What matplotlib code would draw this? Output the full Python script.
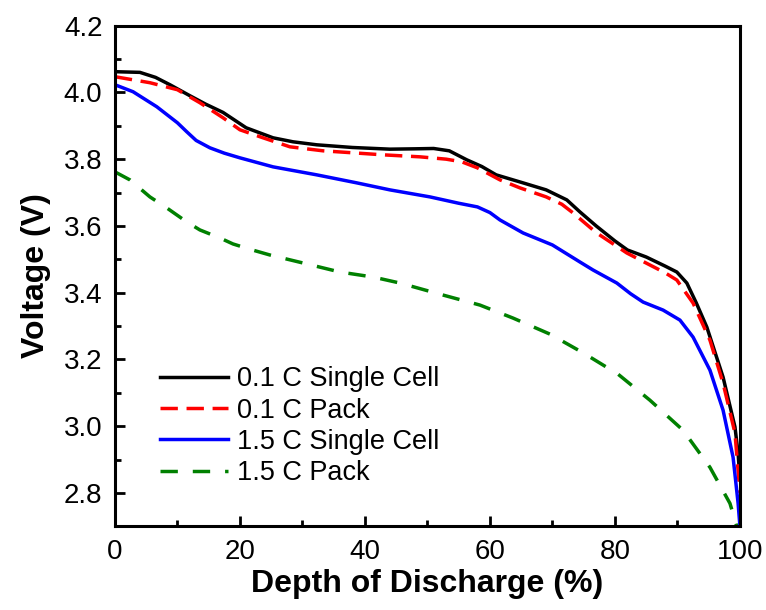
import matplotlib
matplotlib.use("Agg")
import matplotlib.pyplot as plt

plt.rcParams['font.family'] = ['Liberation Sans', 'DejaVu Sans']

# 0.1 C single cell
dod_01_cell = [0, 4, 6.5, 8.8, 12, 14.5, 17.3, 21, 25.3, 28.5, 32.3, 38, 44, 48, 51, 53.5, 56.3,
               58.7, 61, 65.3, 69, 72.3, 74.4, 77, 80, 82, 85, 88, 89.9, 91.5, 93, 94.7, 97.3,
               99.2, 99.7, 100]
v_01_cell = [4.062, 4.06, 4.045, 4.023, 3.99, 3.965, 3.94, 3.894, 3.864, 3.852, 3.843, 3.835,
             3.83, 3.831, 3.832, 3.825, 3.798, 3.778, 3.753, 3.729, 3.708, 3.678, 3.642, 3.6,
             3.555, 3.528, 3.507, 3.48, 3.462, 3.429, 3.37, 3.297, 3.147, 2.998, 2.92, 2.84]

# 0.1 C pack
dod_01_pack = [0, 5.6, 10, 13.6, 17.3, 20, 23.7, 28, 33.3, 42.9, 48.8, 53, 55.5, 58, 61.6, 64.8,
               69, 71.5, 73.3, 77, 81.9, 85.6, 88, 89.9, 92.5, 95.2, 97.3, 99.2, 100]
v_01_pack = [4.047, 4.029, 4.008, 3.969, 3.924, 3.888, 3.864, 3.837, 3.825, 3.813, 3.807, 3.80,
             3.792, 3.774, 3.738, 3.714, 3.687, 3.665, 3.639, 3.58, 3.519, 3.483, 3.46, 3.438,
             3.369, 3.258, 3.129, 2.98, 2.80]

# 1.5 C single cell
dod_15_cell = [0, 2.9, 6.7, 10, 11.5, 13, 15.2, 17.5, 20, 25.3, 32.3, 38.7, 44, 50.4, 55, 58,
               60, 61.6, 65.3, 70, 74.4, 76.5, 80.3, 82.5, 84.5, 87.7, 90.4, 92.5, 95.2, 97.3,
               98.9, 99.7, 100]
v_15_cell = [4.023, 4.002, 3.957, 3.909, 3.882, 3.856, 3.834, 3.818, 3.804, 3.777, 3.753, 3.729,
             3.708, 3.687, 3.668, 3.657, 3.64, 3.618, 3.579, 3.543, 3.492, 3.468, 3.429, 3.397,
             3.372, 3.348, 3.318, 3.267, 3.168, 3.048, 2.907, 2.77, 2.70]

# 1.5 C pack
dod_15_pack = [0, 2.4, 5.6, 8.3, 11.5, 13.6, 16.8, 18.9, 22, 24.8, 30.1, 36, 41.3, 45.6, 52.5,
               58.4, 63.7, 69.6, 74.9, 80.5, 85.6, 90.9, 95.2, 98.4, 99.5]
v_15_pack = [3.762, 3.738, 3.687, 3.654, 3.612, 3.588, 3.564, 3.546, 3.528, 3.513, 3.489, 3.462,
             3.447, 3.429, 3.393, 3.363, 3.324, 3.276, 3.22, 3.156, 3.078, 2.988, 2.877, 2.769,
             2.70]

labels = ['0.1 C Single Cell', '0.1 C Pack', '1.5 C Single Cell', '1.5 C Pack']

fig = plt.figure(figsize=(7.66, 6.1), dpi=100)
ax = fig.add_axes([0.150, 0.137, 0.816, 0.821])

lw = 2.5
ax.plot(dod_01_cell, v_01_cell, color='black', lw=lw, label=labels[0])
ax.plot(dod_01_pack, v_01_pack, color='#ff0000', lw=lw, dashes=(5, 2.5), label=labels[1])
ax.plot(dod_15_cell, v_15_cell, color='#0000ff', lw=lw, label=labels[2])
ax.plot(dod_15_pack, v_15_pack, color='#008000', lw=lw, dashes=(5, 4.3), label=labels[3])

ax.set_xlim(0, 100)
ax.set_ylim(2.7, 4.2)
ax.set_xticks([0, 20, 40, 60, 80, 100])
ax.set_xticks([10, 30, 50, 70, 90], minor=True)
ax.set_yticks([2.8, 3.0, 3.2, 3.4, 3.6, 3.8, 4.0, 4.2])
ax.set_yticks([2.7, 2.9, 3.1, 3.3, 3.5, 3.7, 3.9, 4.1], minor=True)
ax.set_yticklabels([f'{v:.1f}' for v in [2.8, 3.0, 3.2, 3.4, 3.6, 3.8, 4.0, 4.2]])

ax.tick_params(which='both', direction='in', top=False, right=False, width=2)
ax.tick_params(which='major', length=7, labelsize=20, pad=9)
ax.tick_params(which='minor', length=4)
for s in ax.spines.values():
    s.set_linewidth(2.2)

ax.set_xlabel('Depth of Discharge (%)', fontsize=23, fontweight='bold', labelpad=3)
ax.set_ylabel('Voltage (V)', fontsize=23, fontweight='bold', labelpad=9)

ax.legend(loc='lower left', bbox_to_anchor=(0.072, 0.08), frameon=False, fontsize=19.5,
          handlelength=2.5, handletextpad=0.35, labelspacing=0.2, borderpad=0, borderaxespad=0)

fig.savefig('out.png', dpi=100)
